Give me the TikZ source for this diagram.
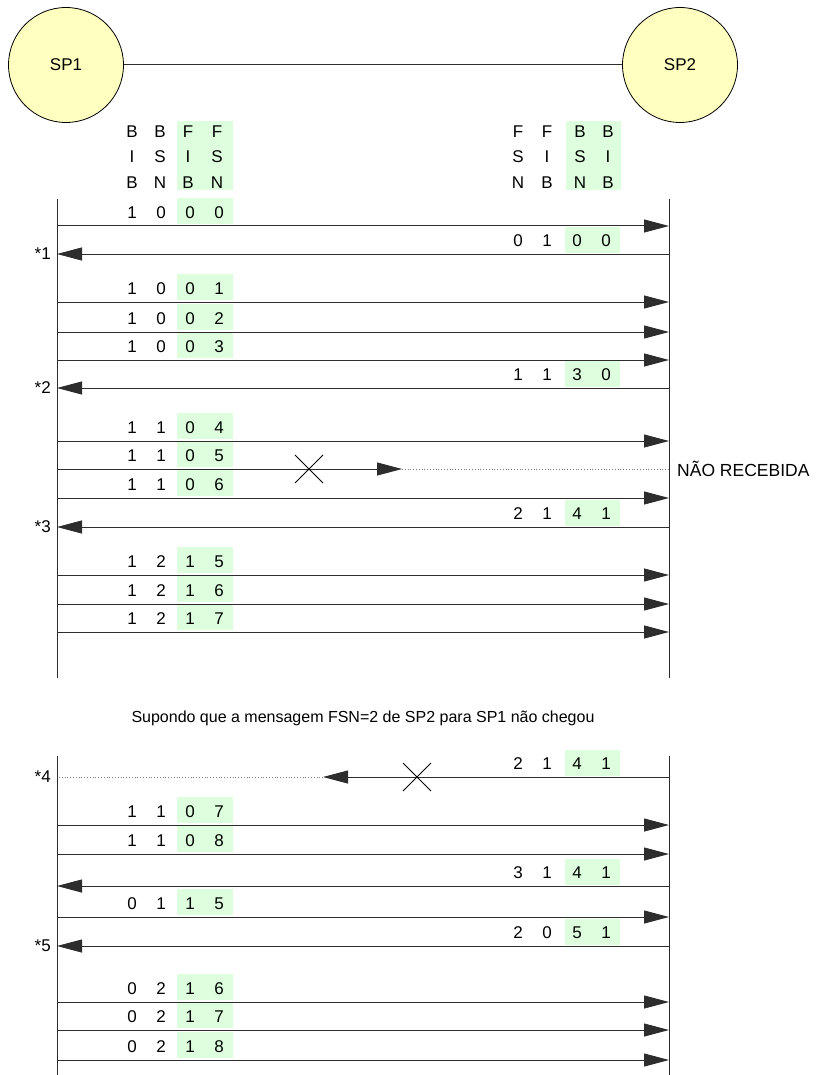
\documentclass[tikz,border=0pt]{standalone}
\usepackage{fontspec}
\setmainfont{Liberation Sans}
\usetikzlibrary{arrows.meta}
\definecolor{spfill}{RGB}{255,255,192}
\definecolor{fldgreen}{RGB}{221,255,221}
\definecolor{linegray}{RGB}{45,45,45}
\newcommand{\lfields}[6]{%
  \fill[fldgreen] (177,#2-28) rectangle (233,#2-2);
  \node[txt] (#1a) at (132,#2-13) {#3};
  \node[txt] (#1b) at (161,#2-13) {#4};
  \node[txt] (#1c) at (190,#2-13) {#5};
  \node[txt] (#1d) at (219,#2-13) {#6};
}
\newcommand{\rfields}[6]{%
  \fill[fldgreen] (565,#2-27) rectangle (620,#2-1);
  \node[txt] (#1a) at (518,#2-13) {#3};
  \node[txt] (#1b) at (547,#2-13) {#4};
  \node[txt] (#1c) at (577,#2-13) {#5};
  \node[txt] (#1d) at (606,#2-13) {#6};
}
\begin{document}
\begin{tikzpicture}[x=1pt,y=-1pt,
  font=\fontsize{17}{20}\selectfont,
  txt/.style={inner sep=0pt},
  msg/.style={draw=linegray, line width=1pt, -{Triangle[length=25pt,width=13pt]}},
  lostline/.style={draw=gray, line width=0.8pt, dotted},
  life/.style={draw=linegray, line width=1pt},
  cross/.style={draw=black, line width=0.8pt},
  sp/.style={circle, draw=black, line width=0.8pt, fill=spfill, minimum size=115pt, inner sep=0pt},
  star/.style={inner sep=0pt, anchor=east}
]
\useasboundingbox (0,0) rectangle (819,1075);

% signalling points
\node[sp] (sp1) at (66,65) {SP1};
\node[sp] (sp2) at (680,65) {SP2};
\draw[draw=linegray, line width=1pt] (sp1) -- (sp2);

% headers
\fill[fldgreen] (177,121) rectangle (233,190);
\fill[fldgreen] (566,121) rectangle (621,190);
\foreach \c/\x/\a/\b/\d in {h1/132/B/I/B, h2/160/B/S/N, h3/188/F/I/B, h4/217/F/S/N,
                            h5/518/F/S/N, h6/547/F/I/B, h7/580/B/S/N, h8/608/B/I/B} {
  \node[txt] (\c r1) at (\x,132) {\a};
  \node[txt] (\c r2) at (\x,157) {\b};
  \node[txt] (\c r3) at (\x,183) {\d};
}

% lifelines
\coordinate (a1top) at (57,199); \coordinate (a1bot) at (57,678);
\coordinate (b1top) at (669,199); \coordinate (b1bot) at (669,678);
\coordinate (a2top) at (57,756); \coordinate (a2bot) at (57,1075);
\coordinate (b2top) at (669,756); \coordinate (b2bot) at (669,1075);
\draw[life] (a1top) -- (a1bot);
\draw[life] (b1top) -- (b1bot);
\draw[life] (a2top) -- (a2bot);
\draw[life] (b2top) -- (b2bot);

% field boxes and values
\lfields{m226}{226}{1}{0}{0}{0}
\lfields{m302}{302}{1}{0}{0}{1}
\lfields{m332}{332}{1}{0}{0}{2}
\lfields{m360}{360}{1}{0}{0}{3}
\lfields{m441}{441}{1}{1}{0}{4}
\lfields{m469}{469}{1}{1}{0}{5}
\lfields{m498}{498}{1}{1}{0}{6}
\lfields{m575}{575}{1}{2}{1}{5}
\lfields{m604}{604}{1}{2}{1}{6}
\lfields{m632}{632}{1}{2}{1}{7}
\lfields{m825}{825}{1}{1}{0}{7}
\lfields{m854}{854}{1}{1}{0}{8}
\lfields{m917}{917}{0}{1}{1}{5}
\lfields{m1002}{1002}{0}{2}{1}{6}
\lfields{m1030}{1030}{0}{2}{1}{7}
\lfields{m1060}{1060}{0}{2}{1}{8}
\rfields{m254}{254}{0}{1}{0}{0}
\rfields{m388}{388}{1}{1}{3}{0}
\rfields{m527}{527}{2}{1}{4}{1}
\rfields{m777}{777}{2}{1}{4}{1}
\rfields{m886}{886}{3}{1}{4}{1}
\rfields{m946}{946}{2}{0}{5}{1}

% messages SP1 -> SP2
\foreach \y in {226,302,332,360,441,498,575,604,632,825,854,917,1002,1030,1060} {
  \coordinate (s\y) at (57,\y);
  \coordinate (r\y) at (669,\y);
  \draw[msg] (s\y) -- (r\y);
}
% messages SP2 -> SP1
\foreach \y in {254,388,527,886,946} {
  \coordinate (s\y) at (57,\y);
  \coordinate (r\y) at (669,\y);
  \draw[msg] (r\y) -- (s\y);
}

% lost message SP1 -> SP2
\coordinate (s469) at (57,469);
\coordinate (t469) at (402,469);
\coordinate (r469) at (669,469);
\coordinate (x469) at (309,469);
\draw[msg] (s469) -- (t469);
\draw[lostline] (t469) -- (r469);
\draw[cross] ([shift={(-14,-14)}]x469) -- ([shift={(14,14)}]x469);
\draw[cross] ([shift={(-14,14)}]x469) -- ([shift={(14,-14)}]x469);
\node[txt, anchor=west, font=\fontsize{17.5}{20}\selectfont] (nr) at (677,469) {NÃO RECEBIDA};

% lost message SP2 -> SP1
\coordinate (s777) at (57,777);
\coordinate (t777) at (323,777);
\coordinate (r777) at (669,777);
\coordinate (x777) at (417,777);
\draw[msg] (r777) -- (t777);
\draw[lostline] (t777) -- (s777);
\draw[cross] ([shift={(-14,-14)}]x777) -- ([shift={(14,14)}]x777);
\draw[cross] ([shift={(-14,14)}]x777) -- ([shift={(14,-14)}]x777);

% markers
\node[star] (st1) at (51,254) {*1};
\node[star] (st2) at (51,388) {*2};
\node[star] (st3) at (51,527) {*3};
\node[star] (st4) at (51,777) {*4};
\node[star] (st5) at (51,946) {*5};

% caption
\node[txt, font=\fontsize{16}{19}\selectfont] (cap) at (363,718) {Supondo que a mensagem FSN=2 de SP2 para SP1 não chegou};
\end{tikzpicture}
\end{document}
